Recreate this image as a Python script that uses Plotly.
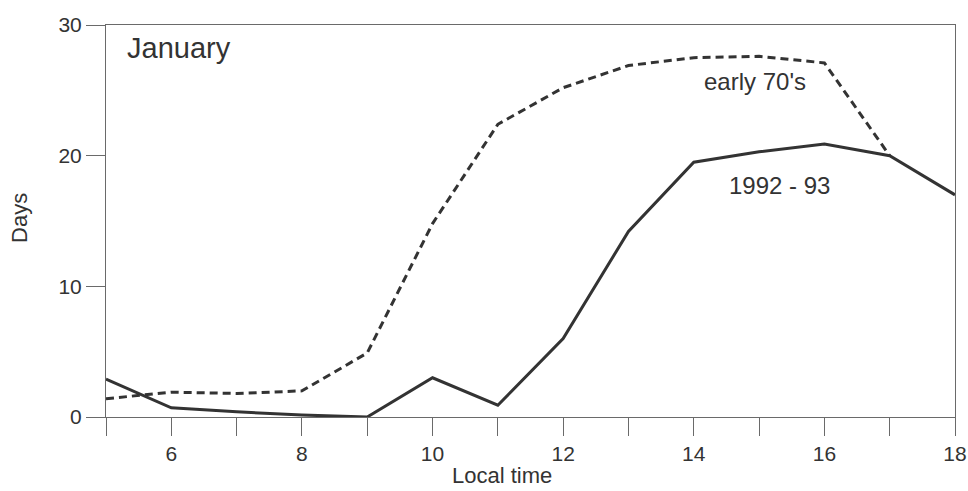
import plotly.graph_objects as go

hours_recent = [5, 6, 7, 8, 9, 10, 11, 12, 13, 14, 15, 16, 17, 18]
days_1992_93 = [2.9, 0.7, 0.4, 0.15, 0.0, 3.0, 0.9, 6.0, 14.2, 19.5, 20.3, 20.9, 20.0, 17.0]

hours_early = [5, 6, 7, 8, 9, 10, 11, 12, 13, 14, 15, 16, 17]
days_early70s = [1.4, 1.9, 1.8, 2.0, 4.9, 14.8, 22.4, 25.2, 26.9, 27.5, 27.6, 27.1, 20.0]

x_ticks = list(range(5, 19))
x_labels = [str(v) if v % 2 == 0 else "" for v in x_ticks]
y_ticks = [0, 10, 20, 30]

font_family = "Liberation Sans, Arial, sans-serif"
ink = "#333333"
axis_col = "#6a6a6a"

fig = go.Figure()
fig.add_trace(go.Scatter(x=hours_early, y=days_early70s, mode="lines",
                         line=dict(color=ink, width=3, dash="8px,5px"),
                         name="early 70's", showlegend=False))
fig.add_trace(go.Scatter(x=hours_recent, y=days_1992_93, mode="lines",
                         line=dict(color=ink, width=3),
                         name="1992 - 93", showlegend=False))

fig.add_annotation(x=0.022, y=0.941, xref="paper", yref="paper", text="January",
                   showarrow=False, xanchor="left", yanchor="middle",
                   font=dict(family=font_family, size=29, color=ink))
fig.add_annotation(x=14.94, y=25.7, text="early 70's", showarrow=False,
                   xanchor="center", yanchor="middle",
                   font=dict(family=font_family, size=24, color=ink))
fig.add_annotation(x=15.32, y=17.7, text="1992 - 93", showarrow=False,
                   xanchor="center", yanchor="middle",
                   font=dict(family=font_family, size=24, color=ink))
# axis titles
fig.add_annotation(x=0.4664, y=-0.149, xref="paper", yref="paper", text="Local time",
                   showarrow=False, xanchor="center", yanchor="middle",
                   font=dict(family=font_family, size=22, color=ink))
fig.add_annotation(x=-0.1013, y=0.5077, xref="paper", yref="paper", text="Days",
                   showarrow=False, xanchor="center", yanchor="middle", textangle=-90,
                   font=dict(family=font_family, size=22, color=ink))

fig.update_layout(
    width=968, height=491,
    margin=dict(l=106, r=13, t=25, b=74, autoexpand=False),
    paper_bgcolor="white", plot_bgcolor="white",
    font=dict(family=font_family, size=21, color=ink),
)
fig.update_xaxes(range=[5, 18], tickvals=x_ticks, ticktext=x_labels,
                 ticks="outside", ticklen=18, tickcolor=axis_col, tickwidth=1,
                 showline=True, linecolor=axis_col, linewidth=1, mirror=True,
                 showgrid=False, zeroline=False, automargin=False,
                 tickfont=dict(family=font_family, size=21, color=ink))
fig.update_yaxes(range=[0, 30], tickvals=y_ticks,
                 ticks="outside", ticklen=19, tickcolor=axis_col, tickwidth=1,
                 showline=True, linecolor=axis_col, linewidth=1, mirror=True,
                 showgrid=False, zeroline=False, automargin=False,
                 tickfont=dict(family=font_family, size=21, color=ink))

fig.write_html(
    "out.html",
    config={"displayModeBar": False},
    post_script="document.body.style.margin='0';document.body.style.overflow='hidden';",
)
